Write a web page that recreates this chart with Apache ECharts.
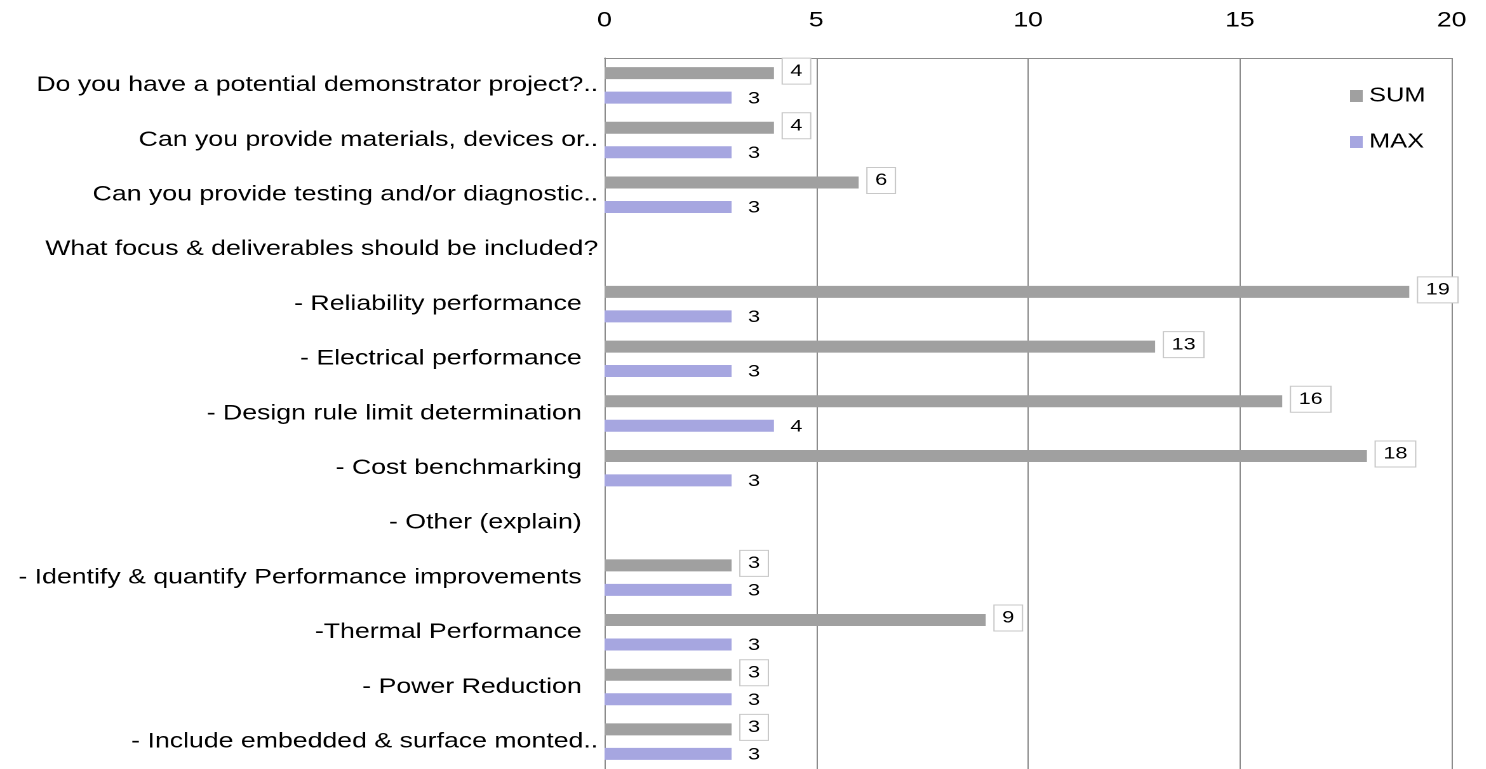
<!DOCTYPE html>
<html>
<head>
<meta charset="utf-8">
<script src="https://cdn.jsdelivr.net/npm/echarts@6/dist/echarts.min.js"></script>
<style>
html,body{margin:0;padding:0;background:#fff;overflow:hidden;width:1486px;height:769px}
/* the reference picture is horizontally stretched (~1.27x); reproduce that with a CSS scale */
#c{width:1170px;height:769px;transform:scaleX(1.27);transform-origin:0 0}
</style>
</head>
<body>
<div id="c"></div>
<script>
const categories = [
  'Do you have a potential demonstrator project?..',
  'Can you provide materials, devices or..',
  'Can you provide testing and/or diagnostic..',
  'What focus & deliverables should be included?',
  '- Reliability performance',
  '- Electrical performance',
  '- Design rule limit determination',
  '- Cost benchmarking',
  '- Other (explain)',
  '- Identify & quantify Performance improvements',
  '-Thermal Performance',
  '- Power Reduction',
  '- Include embedded & surface monted..'
];
const sumValues = [4, 4, 6, null, 19, 13, 16, 18, null, 3, 9, 3, 3];
const maxValues = [3, 3, 3, null, 3, 3, 4, 3, null, 3, 3, 3, 3];
const xTicks = { min: 0, max: 20, interval: 5 };

const FONT = '"Liberation Sans", Arial, sans-serif';
const chart = echarts.init(document.getElementById('c'), null, { renderer: 'canvas', devicePixelRatio: 2 });

const labelBase = {
  show: true,
  position: 'right',
  distance: 7,
  fontFamily: FONT,
  fontSize: 17,
  color: '#000',
  padding: [4, 6, 4, 6]
};

chart.setOption({
  animation: false,
  backgroundColor: '#fff',
  textStyle: { fontFamily: FONT },
  grid: { left: 476, right: 27, top: 58, bottom: 0, containLabel: false },
  legend: {
    orient: 'vertical',
    left: 1058,
    top: 81,
    itemWidth: 10,
    itemHeight: 12,
    itemGap: 26,
    icon: 'rect',
    textStyle: { fontFamily: FONT, fontSize: 20, color: '#000' },
    data: ['SUM', 'MAX']
  },
  xAxis: {
    type: 'value',
    position: 'top',
    min: xTicks.min,
    max: xTicks.max,
    interval: xTicks.interval,
    axisLine: { show: true, lineStyle: { color: '#8c8c8c', width: 1 } },
    axisTick: { show: false },
    axisLabel: { fontFamily: FONT, fontSize: 21, color: '#000', margin: 27 },
    splitLine: { show: true, lineStyle: { color: '#8c8c8c', width: 1 } }
  },
  yAxis: {
    type: 'category',
    inverse: true,
    data: categories,
    axisLine: { show: true, lineStyle: { color: '#8c8c8c', width: 1 } },
    axisTick: { show: false },
    axisLabel: {
      margin: 5,
      fontFamily: FONT,
      fontSize: 21,
      color: '#000',
      formatter: function (v) {
        const plain = v.charAt(0) === '-' && v.slice(-2) !== '..';
        return plain ? '{p|' + v + '}' : '{n|' + v + '}';
      },
      rich: {
        p: { fontFamily: FONT, fontSize: 21, color: '#000', padding: [0, 13, 0, 0] },
        n: { fontFamily: FONT, fontSize: 21, color: '#000' }
      }
    }
  },
  series: [
    {
      name: 'SUM',
      type: 'bar',
      data: sumValues,
      barWidth: 12,
      barGap: '104%',
      itemStyle: { color: '#a0a0a0' },
      label: Object.assign({}, labelBase, {
        backgroundColor: '#fff',
        borderColor: '#c8c8c8',
        borderWidth: 1,
        offset: [0, -2]
      })
    },
    {
      name: 'MAX',
      type: 'bar',
      data: maxValues,
      barWidth: 12,
      itemStyle: { color: '#a6a6e0' },
      label: Object.assign({}, labelBase, { offset: [0, 1] })
    }
  ]
});
</script>
</body>
</html>
